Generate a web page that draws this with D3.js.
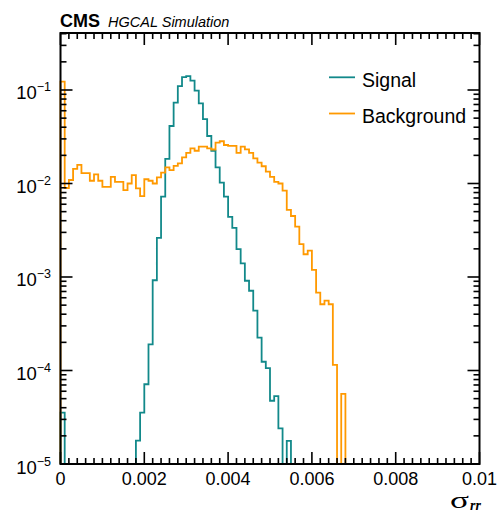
<!DOCTYPE html>
<html><head><meta charset="utf-8">
<script src="https://cdn.jsdelivr.net/npm/d3@7"></script>
<style>body{margin:0;background:#fff}svg{display:block}</style>
</head><body>
<script>
// ---- data ----
const binRange = [0, 0.01];
const nBins = 100;
const signal = [
 3.54e-5,0,0,0,0,0,0,0,0,0,
 0,0,0,0,0,0,0,0,1.78e-5,3.55e-5,
 7.13e-5,1.90e-4,9.23e-4,2.62e-3,7.23e-3,1.83e-2,4.12e-2,7.31e-2,0.110,0.137,
 0.141,0.126,0.0984,0.0721,0.0487,0.0322,0.0224,0.0149,0.0102,0.00723,
 0.00439,0.00336,0.00199,0.00140,0.000912,0.000713,0.000437,0.000225,0.000124,0.000106,
 4.75e-5,5.33e-5,2.41e-5,0,1.77e-5,0,0,0,0,0,
 0,0,0,0,0,0,0,0,0,0,
 0,0,0,0,0,0,0,0,0,0,
 0,0,0,0,0,0,0,0,0,0,
 0,0,0,0,0,0,0,0,0,0
];
const background = [
 0.123,0.00895,0.0109,0.0143,0.0158,0.0129,0.0129,0.0107,0.0125,0.0107,
 0.00918,0.00918,0.0118,0.0104,0.0104,0.00851,0.0100,0.0123,0.00889,0.00734,
 0.0111,0.0107,0.0100,0.0116,0.0131,0.0149,0.0139,0.0154,0.0164,0.0190,
 0.0213,0.0238,0.0224,0.0248,0.0248,0.0237,0.0231,0.0273,0.0283,0.0258,
 0.0252,0.0252,0.0213,0.0248,0.0232,0.0213,0.0186,0.0167,0.0153,0.0134,
 0.0118,0.0104,0.0100,0.00837,0.00521,0.00449,0.00345,0.00225,0.00175,0.00191,
 0.00119,0.000679,0.000511,0.000559,0.000511,0.000115,0,5.62e-5,0,0,
 0,0,0,0,0,0,0,0,0,0,
 0,0,0,0,0,0,0,0,0,0,
 0,0,0,0,0,0,0,0,0,0
];
const seriesNames = ["Signal", "Background"];
const seriesColors = ["#12898a", "#ff9900"];
const xTickValues = [0, 0.002, 0.004, 0.006, 0.008, 0.01];
const xTickLabels = ["0", "0.002", "0.004", "0.006", "0.008", "0.01"];
const yTickExponents = [-5, -4, -3, -2, -1];
const yDomain = [1e-5, 0.407];

// ---- layout ----
const W = 500, H = 517;
const L = 60.5, R = 479.5, T = 33, B = 464;
const svg = d3.select("body").append("svg").attr("width", W).attr("height", H);
const x = d3.scaleLinear().domain(binRange).range([L, R]);
const y = d3.scaleLog().domain(yDomain).range([B, T]);
const font = "'Liberation Sans', Arial, Helvetica, sans-serif";

svg.append("defs").append("clipPath").attr("id", "clip")
  .append("rect").attr("x", L - 2).attr("y", T).attr("width", R - L + 4).attr("height", B - T + 2);

const bw = (binRange[1] - binRange[0]) / nBins;
function stepPath(vals) {
  const p = d3.path();
  p.moveTo(x(binRange[0]), y(yDomain[0]));
  vals.forEach((v, i) => {
    const yy = v > 0 ? y(Math.max(v, yDomain[0])) : y(yDomain[0]);
    p.lineTo(x(binRange[0] + i * bw), yy);
    p.lineTo(x(binRange[0] + (i + 1) * bw), yy);
  });
  p.lineTo(x(binRange[1]), y(yDomain[0]));
  return p.toString();
}
const g = svg.append("g").attr("clip-path", "url(#clip)");
[signal, background].forEach((s, k) => {
  g.append("path").attr("d", stepPath(s)).attr("fill", "none")
    .attr("stroke", seriesColors[k]).attr("stroke-width", 1.8).attr("stroke-linejoin", "miter");
});

// ---- axes ----
const ax = svg.append("g").attr("stroke", "#000");
const tickW = 1.6;
const xMinor = d3.range(0, 51).map(i => binRange[0] + i * 0.0002);
xMinor.forEach((v, i) => {
  const major = i % 10 === 0;
  const len = major ? 12 : 6;
  const xx = x(v);
  ax.append("line").attr("x1", xx).attr("x2", xx).attr("y1", B).attr("y2", B - len).attr("stroke-width", tickW);
  ax.append("line").attr("x1", xx).attr("x2", xx).attr("y1", T).attr("y2", T + len).attr("stroke-width", tickW);
});
const yTicks = [];
for (let e = -5; e <= 0; e++) for (let m = 1; m <= 9; m++) {
  const v = m * Math.pow(10, e);
  if (v >= yDomain[0] * 0.999 && v <= yDomain[1]) yTicks.push({v, major: m === 1});
}
yTicks.forEach(t => {
  const yy = y(t.v);
  const len = t.major ? 12 : 6;
  ax.append("line").attr("x1", L).attr("x2", L + len).attr("y1", yy).attr("y2", yy).attr("stroke-width", tickW);
  ax.append("line").attr("x1", R).attr("x2", R - len).attr("y1", yy).attr("y2", yy).attr("stroke-width", tickW);
});
svg.append("rect").attr("x", L).attr("y", T).attr("width", R - L).attr("height", B - T)
  .attr("fill", "none").attr("stroke", "#000").attr("stroke-width", 2);

xTickValues.forEach((v, i) => {
  svg.append("text").attr("x", x(v)).attr("y", B + 20.5).attr("text-anchor", "middle")
    .attr("font-family", font).attr("font-size", 18).text(xTickLabels[i]);
});
yTickExponents.forEach(e => {
  const t = svg.append("text").attr("x", 51).attr("y", y(Math.pow(10, e)) + 9.5)
    .attr("text-anchor", "end").attr("font-family", font).attr("font-size", 18.5);
  t.append("tspan").text("10");
  t.append("tspan").attr("dy", -8).attr("font-size", 12.5).text("\u2212" + (-e));
});

svg.append("text").attr("x", 60).attr("y", 27).attr("font-family", font)
  .attr("font-weight", "bold").attr("font-size", 18).text("CMS");
svg.append("text").attr("x", 108).attr("y", 27).attr("font-family", font)
  .attr("font-style", "italic").attr("font-size", 14.5).text("HGCAL Simulation");

// axis title
svg.append("text").attr("x", 450).attr("y", 508).attr("font-family", "'Liberation Serif', 'DejaVu Serif', serif")
  .attr("font-size", 23).attr("textLength", 19).attr("lengthAdjust", "spacingAndGlyphs").text("\u03c3");
svg.append("text").attr("x", 470).attr("y", 510).attr("font-family", "'Liberation Serif', 'DejaVu Serif', serif")
  .attr("font-size", 14).attr("font-style", "italic").attr("font-weight", "bold").text("rr");

const legY = [77.3, 113.5];
seriesNames.forEach((n, i) => {
  svg.append("line").attr("x1", 329).attr("x2", 355).attr("y1", legY[i]).attr("y2", legY[i])
    .attr("stroke", seriesColors[i]).attr("stroke-width", 1.8);
  svg.append("text").attr("x", 362).attr("y", legY[i] + 9.8).attr("font-family", font)
    .attr("font-size", 19.5).text(n);
});
</script>
</body></html>
